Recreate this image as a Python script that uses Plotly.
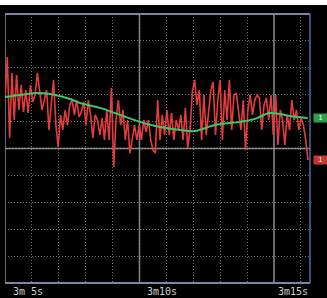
import plotly.graph_objects as go

# ---- data (time in seconds, amplitude in units of 10 per division) ----
tick_times = [185, 190, 195]
tick_labels = ["3m 5s", "3m10s", "3m15s"]

red_t0 = 185.0
red_dt = 0.0860
red_values = [
    18.0, 34.0, 3.9, 28.1, 10.6, 27.3, 14.3, 23.6, 13.6, 21.7, 13.2, 23.6, 17.3, 19.9, 28.1, 19.9,
    14.3, 18.0, 21.7, 6.9, 16.2, 25.5, 8.7, 0.6, 12.5, 6.9, 14.3, 8.7, 16.2, 18.0, 12.5, 18.0,
    11.7, 13.6, 17.3, 8.7, 18.0, 12.5, 3.9, 12.5, 10.6, 5.0, 11.3, 3.2, 14.3, 3.2, 22.5, -6.9,
    10.6, 18.0, 8.7, 14.3, 3.2, 10.6, -1.7, 3.2, 8.7, 3.2, 8.7, 3.2, 10.6, 6.1, 10.6, 3.2,
    -0.6, -1.7, 18.0, 3.2, 12.5, 5.0, 14.3, 5.0, 13.2, 3.2, 10.6, 6.9, 12.5, 3.2, 15.1, 0.2,
    6.9, 21.0, 25.5, 16.2, 21.7, 3.2, 19.9, 5.0, 12.5, 21.7, 24.7, 5.0, 18.0, 25.5, 3.2, 21.7,
    10.6, 25.5, 6.9, 19.9,
    20.6, 12.5, 6.9, 18.0, -0.6, 14.3, 19.9, 12.5, 18.0, 19.9, 18.8, 6.9, 16.2, 18.8, 10.6, 19.9,
    5.0, 19.9, 1.3, 14.3, 10.6, 1.3, 12.5, 6.9, 18.0, 10.6, 14.3, 6.9, 11.3, 8.7, 3.2, -4.3,
]
red_times = [red_t0 + i * red_dt for i in range(len(red_values))]

green_times = [185.00, 185.56, 186.30, 186.86, 187.42, 187.79, 188.53, 189.28, 190.02,
               190.76, 191.51, 192.06, 192.81, 193.74, 194.29, 194.85, 195.59, 196.26]
green_values = [19.1, 19.9, 20.6, 19.9, 18.4, 16.9, 15.1, 12.5, 9.9,
                8.0, 6.9, 6.5, 8.7, 9.9, 11.0, 13.2, 12.1, 11.3]

X_MIN, X_MAX = 185.0, 196.34
Y_MIN, Y_MAX = -50, 50

fig = go.Figure()
fig.add_trace(go.Scatter(x=red_times, y=red_values, mode="lines",
                         line=dict(color="#e43c3c", width=1.6), hoverinfo="skip"))
fig.add_trace(go.Scatter(x=green_times, y=green_values, mode="lines",
                         line=dict(color="#41c463", width=2, shape="spline"), hoverinfo="skip"))

shapes = []
# major solid lines
for t in tick_times:
    shapes.append(dict(type="line", xref="x", yref="y", x0=t, x1=t, y0=Y_MIN, y1=Y_MAX,
                       line=dict(color="#8e8e8e", width=1.5), layer="below"))
shapes.append(dict(type="line", xref="x", yref="y", x0=X_MIN, x1=X_MAX, y0=0, y1=0,
                   line=dict(color="#9a9a9a", width=1.5), layer="below"))
# borders
shapes.append(dict(type="line", xref="paper", yref="paper", x0=0, x1=1, y0=1, y1=1,
                   line=dict(color="#7c87a6", width=2)))
shapes.append(dict(type="line", xref="paper", yref="paper", x0=0, x1=1, y0=0, y1=0,
                   line=dict(color="#7c87a6", width=2)))
shapes.append(dict(type="line", xref="paper", yref="paper", x0=1, x1=1, y0=0, y1=1,
                   line=dict(color="#4d6e9e", width=1.5)))

annotations = []
for i, (t, lab) in enumerate(zip(tick_times, tick_labels)):
    if i < len(tick_times) - 1:
        annotations.append(dict(x=t, xref="x", y=0, yref="paper", text=lab, showarrow=False,
                                xanchor="left", yanchor="top", xshift=6, yshift=-1,
                                font=dict(family="DejaVu Sans Mono", size=10, color="#cfcfcf")))
    else:
        annotations.append(dict(x=1, xref="paper", y=0, yref="paper", text=lab, showarrow=False,
                                xanchor="right", yanchor="top", xshift=0, yshift=-1,
                                font=dict(family="DejaVu Sans Mono", size=10, color="#cfcfcf")))

# channel tags at right edge
for val, col in [(green_values[-1], "#2e9e4a"), (red_values[-1], "#c93434")]:
    annotations.append(dict(x=1, xref="paper", y=val, yref="y", text="1",
                            showarrow=False, xanchor="left", yanchor="middle", xshift=3,
                            bgcolor=col, borderpad=0, width=13, height=8,
                            font=dict(family="DejaVu Sans", size=7, color="white")))

fig.update_layout(
    width=327, height=298,
    margin=dict(l=5, r=17, t=14, b=15),
    paper_bgcolor="black", plot_bgcolor="black",
    showlegend=False,
    xaxis=dict(range=[X_MIN, X_MAX], tick0=185, dtick=1, showgrid=True, gridcolor="#707070",
               griddash="1px,2px", gridwidth=1, zeroline=False, showticklabels=False, ticks="",
               showline=False, fixedrange=True),
    yaxis=dict(range=[Y_MIN, Y_MAX], tick0=0, dtick=10, showgrid=True, gridcolor="#707070",
               griddash="1px,2px", gridwidth=1, zeroline=False, showticklabels=False, ticks="",
               showline=False, fixedrange=True),
    shapes=shapes,
    annotations=annotations,
)

fig.write_html("out.html", config={"displayModeBar": False},
               post_script="document.body.style.margin='0';document.body.style.padding='0';"
                           "document.body.style.background='black';"
                           "var s=document.createElement('div');"
                           "s.style.cssText='position:absolute;left:0;top:0;width:327px;height:5px;background:white;z-index:10';"
                           "document.body.appendChild(s);")
